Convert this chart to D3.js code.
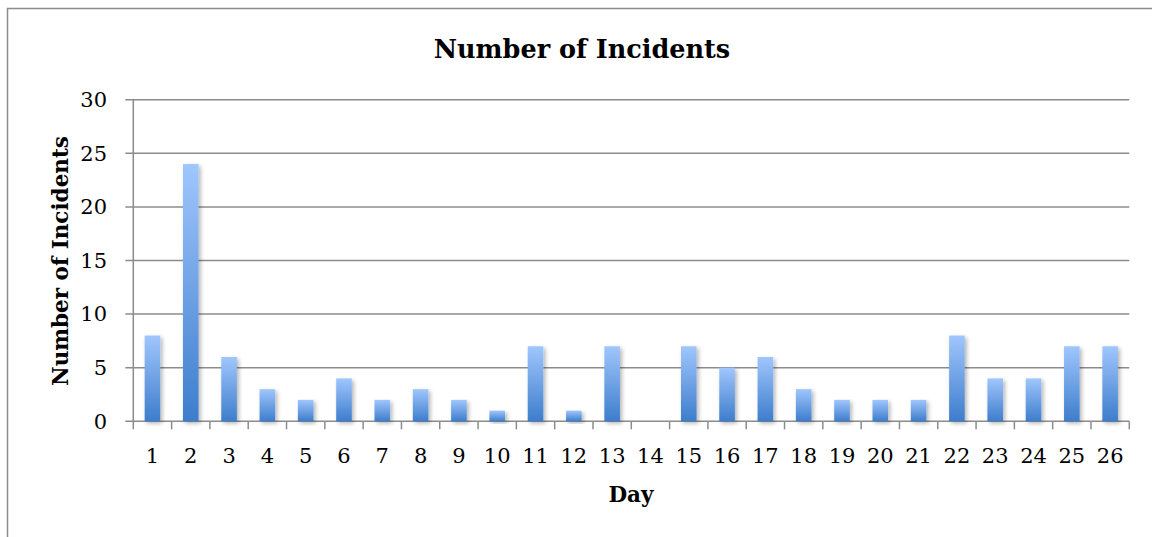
<!DOCTYPE html>
<html>
<head>
<meta charset="utf-8">
<script src="https://cdn.jsdelivr.net/npm/d3@7"></script>
<style>
  html, body { margin: 0; padding: 0; background: #fff; }
  svg { display: block; }
</style>
</head>
<body>
<svg id="chart" width="1152" height="537"></svg>
<script>
const days = ["1","2","3","4","5","6","7","8","9","10","11","12","13","14","15","16","17","18","19","20","21","22","23","24","25","26"];
const incidents = [8,24,6,3,2,4,2,3,2,1,7,1,7,0,7,5,6,3,2,2,2,8,4,4,7,7];
const yTicks = [0,5,10,15,20,25,30];
const chartTitle = "Number of Incidents";
const yTitle = "Number of Incidents";
const xTitle = "Day";

const svg = d3.select("#chart");
const margin = { left: 133.3, right: 1129.3, top: 99.7, bottom: 421.3 };
const serif = "'DejaVu Serif', 'Liberation Serif', serif";

// outer frame
svg.append("rect")
  .attr("x", 7.5).attr("y", 8.5)
  .attr("width", 1160).attr("height", 540)
  .attr("fill", "#fff").attr("stroke", "#8c8c8c").attr("stroke-width", 1.5);

const defs = svg.append("defs");
const grad = defs.append("linearGradient")
  .attr("id", "barGrad").attr("x1", 0).attr("y1", 0).attr("x2", 0).attr("y2", 1);
grad.append("stop").attr("offset", "0%").attr("stop-color", "#a0c6fd");
grad.append("stop").attr("offset", "100%").attr("stop-color", "#3d7dcc");

const shadow = defs.append("filter").attr("id", "shadow")
  .attr("x", "-50%").attr("y", "-10%").attr("width", "200%").attr("height", "130%");
shadow.append("feGaussianBlur").attr("in", "SourceAlpha").attr("stdDeviation", 2.2).attr("result", "blur");
shadow.append("feOffset").attr("in", "blur").attr("dx", 2).attr("dy", 2).attr("result", "off");
shadow.append("feComponentTransfer").attr("in", "off").attr("result", "sh")
  .append("feFuncA").attr("type", "linear").attr("slope", 0.3);
const merge = shadow.append("feMerge");
merge.append("feMergeNode").attr("in", "sh");
merge.append("feMergeNode").attr("in", "SourceGraphic");

const xb = d3.scaleBand().domain(days).range([margin.left, margin.right]);
const y = d3.scaleLinear().domain([0, 30]).range([margin.bottom, margin.top]);

// gridlines
svg.append("g").selectAll("line").data(yTicks).join("line")
  .attr("x1", margin.left - 8).attr("x2", margin.right)
  .attr("y1", d => y(d)).attr("y2", d => y(d))
  .attr("stroke", "#8c8c8c").attr("stroke-width", 1.5);

// y axis line
svg.append("line")
  .attr("x1", margin.left).attr("x2", margin.left)
  .attr("y1", margin.top).attr("y2", margin.bottom + 8)
  .attr("stroke", "#8c8c8c").attr("stroke-width", 1.5);

// x ticks at category boundaries
const bounds = days.map(d => xb(d) + xb.bandwidth());
svg.append("g").selectAll("line").data(bounds).join("line")
  .attr("x1", d => d).attr("x2", d => d)
  .attr("y1", margin.bottom).attr("y2", margin.bottom + 8)
  .attr("stroke", "#8c8c8c").attr("stroke-width", 1.5);

// bars
svg.append("g").selectAll("rect").data(days.map((d, i) => ({ d, v: incidents[i] })).filter(o => o.v > 0))
  .join("rect")
  .attr("x", o => xb(o.d) + xb.bandwidth() / 2 - 7.8)
  .attr("width", 15.6)
  .attr("y", o => y(o.v))
  .attr("height", o => y(0) - y(o.v))
  .attr("fill", "url(#barGrad)")
  .attr("filter", "url(#shadow)");

// y tick labels
svg.append("g").selectAll("text").data(yTicks).join("text")
  .attr("x", 107).attr("y", d => y(d))
  .attr("dy", "0.35em")
  .attr("text-anchor", "end")
  .attr("font-family", serif).attr("font-size", 21)
  .attr("fill", "#000")
  .text(d => d);

// x tick labels
svg.append("g").selectAll("text").data(days).join("text")
  .attr("x", d => xb(d) + xb.bandwidth() / 2).attr("y", 456)
  .attr("dy", "0.35em")
  .attr("text-anchor", "middle")
  .attr("font-family", serif).attr("font-size", 21)
  .attr("fill", "#000")
  .text(d => d);

// titles
svg.append("text")
  .attr("x", 582).attr("y", 49).attr("dy", "0.35em")
  .attr("text-anchor", "middle")
  .attr("font-family", serif).attr("font-weight", "bold").attr("font-size", 25.5)
  .text(chartTitle);

svg.append("text")
  .attr("x", 631).attr("y", 494).attr("dy", "0.35em")
  .attr("text-anchor", "middle")
  .attr("font-family", serif).attr("font-weight", "bold").attr("font-size", 21.5)
  .text(xTitle);

svg.append("text")
  .attr("transform", "translate(60,261) rotate(-90)")
  .attr("dy", "0.35em")
  .attr("text-anchor", "middle")
  .attr("font-family", serif).attr("font-weight", "bold").attr("font-size", 21.5)
  .text(yTitle);
</script>
</body>
</html>
